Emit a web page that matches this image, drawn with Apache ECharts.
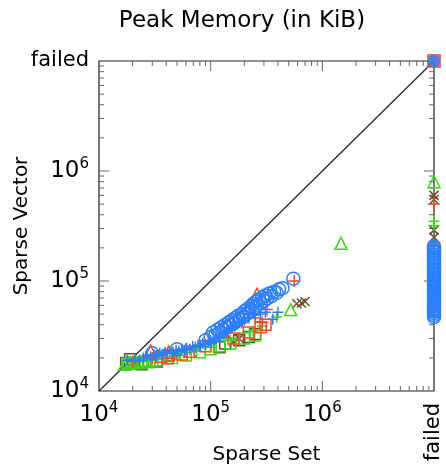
<!DOCTYPE html>
<html>
<head>
<meta charset="utf-8">
<script src="https://cdn.jsdelivr.net/npm/echarts@6.0.0/dist/echarts.min.js"></script>
<style>
  html, body { margin: 0; padding: 0; background: #fff; }
  #chart { width: 446px; height: 470px; }
</style>
</head>
<body>
<div id="chart"></div>
<script>
// axis range: 1e4 .. "failed" (drawn at 1e7)
var AXIS_MIN = 1e4;
var FAILED = 1e7;
var tickLabels = ['10^4', '10^5', '10^6', 'failed'];
var minorTicks = [2e4, 3e4, 4e4, 5e4, 6e4, 7e4, 8e4, 9e4,
                  2e5, 3e5, 4e5, 5e5, 6e5, 7e5, 8e5, 9e5,
                  2e6, 3e6, 4e6, 5e6, 6e6, 7e6, 8e6, 9e6];
var majorTicks = [1e5, 1e6];

// [sparse set, sparse vector]
var blueCircle = [[3.0e4, 2.2e4], [5.0e4, 2.4e4], [9.0e4, 2.9e4], [1.0e5, 3.1e4], [1.05e5, 3.4e4],
                  [1.1e5, 3.2e4], [1.15e5, 3.6e4], [1.2e5, 3.4e4], [1.25e5, 3.8e4], [1.3e5, 3.6e4],
                  [1.35e5, 4.0e4], [1.4e5, 3.8e4], [1.45e5, 4.2e4], [1.5e5, 4.0e4], [1.55e5, 4.4e4],
                  [1.6e5, 4.1e4], [1.65e5, 4.6e4], [1.7e5, 4.3e4], [1.75e5, 4.8e4], [1.8e5, 4.5e4],
                  [1.9e5, 5.0e4], [1.95e5, 4.7e4], [2.0e5, 5.3e4], [2.1e5, 5.0e4], [2.15e5, 5.6e4],
                  [2.2e5, 5.2e4], [2.3e5, 5.9e4], [2.35e5, 5.4e4], [2.4e5, 6.2e4], [2.5e5, 5.7e4],
                  [2.55e5, 6.5e4], [2.6e5, 6.0e4], [2.7e5, 6.8e4], [2.8e5, 6.3e4], [2.9e5, 7.1e4],
                  [3.0e5, 6.6e4], [3.1e5, 7.4e4], [3.2e5, 6.9e4], [3.35e5, 7.7e4], [3.5e5, 7.3e4],
                  [3.7e5, 8.0e4], [3.9e5, 7.8e4], [4.1e5, 8.4e4], [4.4e5, 8.6e4], [5.5e5, 1.05e5]];
var bluePlus = [[1.8e4, 1.9e4], [2.1e4, 1.95e4], [2.3e4, 1.9e4], [2.5e4, 2.0e4], [2.7e4, 2.1e4],
                [2.9e4, 2.05e4], [3.1e4, 2.15e4], [3.3e4, 2.1e4], [3.5e4, 2.2e4], [3.7e4, 2.15e4],
                [3.9e4, 2.25e4], [4.1e4, 2.2e4], [4.3e4, 2.3e4], [4.6e4, 2.25e4], [4.9e4, 2.35e4],
                [5.2e4, 2.3e4], [5.5e4, 2.4e4], [5.8e4, 2.35e4], [6.1e4, 2.45e4], [6.5e4, 2.4e4],
                [6.9e4, 2.55e4], [7.3e4, 2.5e4], [7.7e4, 2.6e4], [8.1e4, 2.55e4], [8.5e4, 2.7e4],
                [9.0e4, 2.65e4], [9.5e4, 2.8e4], [1.0e5, 2.75e4], [1.06e5, 2.9e4], [1.12e5, 3.0e4],
                [1.2e5, 3.1e4], [1.3e5, 3.3e4], [1.4e5, 3.5e4], [1.5e5, 3.7e4], [1.65e5, 3.9e4],
                [1.8e5, 4.2e4], [2.0e5, 4.4e4], [2.2e5, 4.6e4], [2.5e5, 4.9e4], [2.8e5, 5.0e4],
                [3.1e5, 5.2e4], [3.6e5, 4.5e4], [4.0e5, 5.2e4]];
var redPlus = [[2.0e4, 1.85e4], [3.0e4, 2.0e4], [4.5e4, 2.2e4], [6.0e4, 2.4e4], [8.0e4, 2.6e4],
               [1.1e5, 3.0e4], [1.4e5, 3.4e4], [1.9e5, 4.2e4], [2.5e5, 4.6e4], [2.9e5, 4.2e4],
               [3.2e5, 5.5e4], [5.6e5, 1.0e5]];
var redTri = [[2.9e4, 2.3e4], [4.2e4, 2.25e4], [6.5e4, 2.3e4], [1.3e5, 3.5e4], [1.7e5, 4.4e4],
              [2.2e5, 5.7e4], [2.6e5, 7.6e4]];
var redSquare = [[3.6e4, 2.05e4], [4.1e4, 1.98e4], [5.5e4, 2.15e4], [9.0e4, 2.55e4], [1.6e5, 3.0e4],
                 [2.2e5, 3.4e4], [2.8e5, 3.8e4], [3.1e5, 4.0e4]];
var greenTri = [[1.7e4, 1.75e4], [1.8e4, 1.85e4], [1.9e4, 1.8e4], [2.1e4, 1.85e4], [2.3e4, 1.82e4],
                [2.5e4, 1.9e4], [5.2e5, 5.5e4], [1.47e6, 2.2e5]];
var greenPlus = [[2.1e4, 1.8e4], [2.5e4, 1.85e4], [2.8e4, 1.9e4], [3.2e4, 1.95e4], [3.8e4, 1.95e4],
                 [4.5e4, 2.05e4], [5.2e4, 2.1e4], [6.0e4, 2.25e4], [7.5e4, 2.3e4], [1.0e5, 2.5e4],
                 [1.5e5, 2.9e4], [2.4e5, 3.5e4], [2.9e5, 3.9e4], [3.9e5, 4.7e4]];
var greenSquare = [[1.8e4, 1.78e4], [2.0e4, 1.8e4], [2.2e4, 1.8e4], [2.4e4, 1.82e4], [2.6e4, 1.85e4],
                   [2.8e4, 1.83e4], [3.0e4, 1.88e4], [3.3e4, 1.9e4], [4.5e4, 2.0e4], [6.0e4, 2.1e4],
                   [8.0e4, 2.25e4], [1.0e5, 2.4e4], [1.2e5, 2.55e4], [1.5e5, 2.7e4], [2.0e5, 3.0e4],
                   [2.5e5, 3.2e4]];
var brownX = [[1.6e5, 2.8e4], [1.8e5, 3.0e4], [5.9e5, 6.2e4], [6.5e5, 6.3e4], [7.0e5, 6.5e4]];
var brownSquare = [[1.75e4, 1.8e4], [1.9e4, 1.94e4], [2.4e4, 1.75e4], [3.3e4, 1.85e4], [4.2e4, 2.1e4],
                   [1.2e5, 2.5e4], [1.35e5, 2.7e4], [1.8e5, 2.9e4], [2.2e5, 3.1e4], [2.5e5, 3.3e4]];

// sparse vector values where sparse set failed
var blueCircleFailedY = [4.7e4, 4.9e4, 5.1e4, 5.3e4, 5.5e4, 5.7e4, 5.9e4, 6.2e4, 6.4e4, 6.7e4,
                         7.0e4, 7.3e4, 7.6e4, 7.9e4, 8.2e4, 8.6e4, 9.0e4, 9.4e4, 9.8e4, 1.02e5,
                         1.06e5, 1.1e5, 1.15e5, 1.2e5, 1.25e5, 1.3e5, 1.36e5, 1.42e5, 1.48e5,
                         1.54e5, 1.6e5, 1.67e5, 1.74e5, 1.82e5, 1.9e5, 1.98e5, 2.05e5];
var bluePlusFailedY = [4.8e4, 5.2e4, 5.6e4, 6.1e4, 6.6e4, 7.2e4, 7.8e4, 8.5e4, 9.2e4, 1.0e5,
                       1.1e5, 1.2e5, 1.3e5, 1.45e5, 1.6e5, 1.75e5, 1.9e5];
var redPlusFailedY = [5.0e5, 2.1e5];
var redSquareFailedY = [5.5e4, 6.0e4, 6.5e4, 1.1e5, 2.0e5];
var greenTriFailedY = [8.0e5, 2.1e5];
var greenPlusFailedY = [3.5e5, 3.2e5, 4.7e4, 8.5e4];
var brownXFailedY = [6.0e5, 5.5e5, 2.9e5, 2.5e5];
// both failed
var bothFailedRed = [[FAILED, FAILED]];
var bothFailedBlue = [[FAILED, FAILED]];

var BLUE = '#2a7fff', RED = '#ff4a26', GREEN = '#3fd420', BROWN = '#6e4c2c';
var FONT = 'DejaVu Sans';
var PLUS = 'path://M5,0L5,10M0,5L10,5';
var CROSS = 'path://M0,0L10,10M0,10L10,0';

function failedPoints(ys) {
  return ys.map(function (y) { return [FAILED, y]; });
}

function richLabel(s) {
  var p = s.split('^');
  return p.length === 2 ? '{b|' + p[0] + '}{s|' + p[1] + '}' : '{w|' + s + '}';
}

function labelFor(v) {
  return tickLabels[Math.round(Math.log10(v)) - 4];
}

var labelRich = {
  b: { fontFamily: FONT, fontSize: 23, color: '#000', lineHeight: 28 },
  s: { fontFamily: FONT, fontSize: 15, color: '#000', lineHeight: 16, verticalAlign: 'top' },
  w: { fontFamily: FONT, fontSize: 21, color: '#000', lineHeight: 26 }
};

function openMarks(name, symbol, size, color, data, width) {
  return {
    name: name, type: 'scatter', symbol: symbol, symbolSize: size, data: data, clip: false,
    itemStyle: { color: 'rgba(0,0,0,0)', borderColor: color, borderWidth: width || 1.5, opacity: 1 },
    z: 3
  };
}

var chart = echarts.init(document.getElementById('chart'));

chart.setOption({
  animation: false,
  title: {
    text: 'Peak Memory (in KiB)',
    left: 237, top: 5, textAlign: 'center',
    textStyle: { fontFamily: FONT, fontSize: 23, fontWeight: 'normal', color: '#000' }
  },
  grid: {
    left: 99, right: 12, top: 61, bottom: 75,
    show: true, borderColor: '#222', borderWidth: 1.2, backgroundColor: 'transparent'
  },
  xAxis: [{
    type: 'log', logBase: 10, min: AXIS_MIN, max: FAILED,
    name: 'Sparse Set', nameLocation: 'middle', nameGap: 54, nameMoveOverlap: false,
    nameTextStyle: { fontFamily: FONT, fontSize: 20, color: '#000' },
    axisLine: { show: false }, axisTick: { show: false }, splitLine: { show: false },
    axisLabel: {
      showMinLabel: true, showMaxLabel: true, margin: 10,
      formatter: function (v) { return v >= FAILED ? '' : richLabel(labelFor(v)); },
      rich: labelRich
    }
  }, {
    type: 'log', logBase: 10, min: AXIS_MIN, max: FAILED, position: 'bottom',
    axisLine: { show: false }, axisTick: { show: false }, splitLine: { show: false },
    axisLabel: {
      showMinLabel: true, showMaxLabel: true, rotate: 90, margin: 12,
      fontFamily: FONT, fontSize: 21, color: '#000',
      formatter: function (v) { return v >= FAILED ? labelFor(v) : ''; }
    }
  }],
  yAxis: {
    type: 'log', logBase: 10, min: AXIS_MIN, max: FAILED,
    name: 'Sparse Vector', nameLocation: 'middle', nameGap: 67, nameRotate: 90, nameMoveOverlap: false,
    nameTextStyle: { fontFamily: FONT, fontSize: 20, color: '#000' },
    axisLine: { show: false }, axisTick: { show: false }, splitLine: { show: false },
    axisLabel: {
      showMinLabel: true, showMaxLabel: true, margin: 10,
      formatter: function (v) { return richLabel(labelFor(v)); },
      rich: labelRich
    }
  },
  series: [
    {
      // inward ticks on all four sides, placed through the axes
      type: 'custom', silent: true, clip: false, z: 1,
      data: minorTicks.concat(majorTicks).map(function (v) { return [v, v]; }),
      renderItem: function (params, api) {
        var cs = params.coordSys;
        var v = api.value(0);
        var major = Math.abs(Math.log10(v) - Math.round(Math.log10(v))) < 1e-6;
        var len = major ? 10 : 5;
        var x = api.coord([v, AXIS_MIN])[0];
        var y = api.coord([AXIS_MIN, v])[1];
        var top = cs.y, bottom = cs.y + cs.height, left = cs.x, right = cs.x + cs.width;
        var st = { stroke: '#666', lineWidth: 1 };
        return {
          type: 'group',
          children: [
            { type: 'line', shape: { x1: x, y1: bottom, x2: x, y2: bottom - len }, style: st },
            { type: 'line', shape: { x1: x, y1: top, x2: x, y2: top + len }, style: st },
            { type: 'line', shape: { x1: left, y1: y, x2: left + len, y2: y }, style: st },
            { type: 'line', shape: { x1: right, y1: y, x2: right - len, y2: y }, style: st }
          ]
        };
      }
    },
    {
      type: 'line', data: [[AXIS_MIN, AXIS_MIN], [FAILED, FAILED]], showSymbol: false, silent: true,
      lineStyle: { color: '#222', width: 1.2 }, z: 2
    },
    openMarks('brown square', 'rect', 11, BROWN, brownSquare),
    openMarks('brown x', CROSS, 9, BROWN, brownX.concat(failedPoints(brownXFailedY))),
    openMarks('green square', 'rect', 11, GREEN, greenSquare),
    openMarks('green plus', PLUS, 11, GREEN, greenPlus.concat(failedPoints(greenPlusFailedY))),
    openMarks('green triangle', 'triangle', 12, GREEN, greenTri.concat(failedPoints(greenTriFailedY))),
    openMarks('red square', 'rect', 11, RED, redSquare.concat(failedPoints(redSquareFailedY))),
    openMarks('red triangle', 'triangle', 12, RED, redTri),
    openMarks('red plus', PLUS, 12, RED, redPlus.concat(failedPoints(redPlusFailedY))),
    openMarks('blue plus', PLUS, 11, BLUE, bluePlus.concat(failedPoints(bluePlusFailedY))),
    openMarks('blue circle', 'circle', 13, BLUE, blueCircle.concat(failedPoints(blueCircleFailedY))),
    {
      type: 'scatter', symbol: 'rect', symbolSize: 14, data: bothFailedRed, clip: false,
      itemStyle: { color: RED }, z: 4
    },
    {
      type: 'scatter', symbol: 'circle', symbolSize: 13, data: bothFailedBlue, clip: false,
      itemStyle: { color: BLUE }, z: 5
    }
  ]
});
</script>
</body>
</html>
